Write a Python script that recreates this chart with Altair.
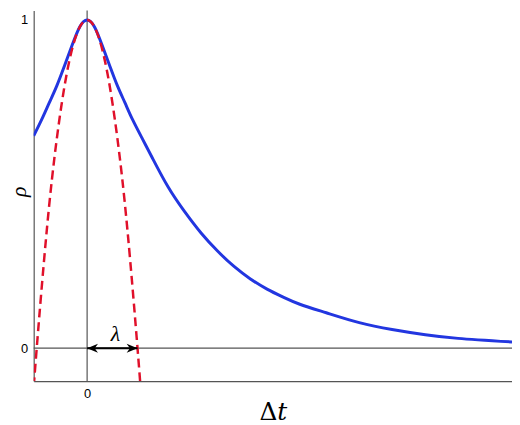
import altair as alt
import pandas as pd

# ---- data ----
blue_t = [-1.06, -0.9, -0.75, -0.6, -0.45, -0.3, -0.15, 0.0, 0.15, 0.3, 0.45, 0.6, 0.75,
          0.9, 1.1, 1.3, 1.608, 1.935, 2.261, 2.588, 2.915, 3.24, 3.57, 3.90, 4.22,
          4.745, 5.40, 6.05, 6.71, 7.36, 8.43]
blue_rho = [0.647, 0.697, 0.748, 0.80, 0.86, 0.922, 0.978, 1.0, 0.978, 0.922, 0.86, 0.80, 0.748,
            0.697, 0.637, 0.578, 0.491, 0.416, 0.351, 0.296, 0.249, 0.211, 0.180, 0.155, 0.134,
            0.108, 0.078, 0.057, 0.041, 0.030, 0.019]

red_t = [-1.1, -1.0, -0.8, -0.6, -0.4, -0.2, 0.0, 0.2, 0.4, 0.6, 0.8, 1.0, 1.1]
red_rho = [-0.2, 0.0, 0.36, 0.64, 0.84, 0.96, 1.0, 0.96, 0.84, 0.64, 0.36, 0.0, -0.2]

zero_x = [0]
zero_y = [0]
arrow_from = [0]
arrow_to = [1]
lam_x = [0.56]
lam_text = ["λ"]
x_ticks = [0]
y_ticks = [0, 1]

X_DOMAIN = [-1.06, 8.43]
Y_DOMAIN = [-0.1, 1.029]

xs = alt.Scale(domain=X_DOMAIN, nice=False, zero=False)
ys = alt.Scale(domain=Y_DOMAIN, nice=False, zero=False)

GRAY = "#555555"

blue_df = pd.DataFrame({"t": blue_t, "rho": blue_rho})
red_df = pd.DataFrame({"t": red_t, "rho": red_rho})

x_axis = alt.Axis(values=x_ticks, title="Δ𝑡", ticks=False, labelPadding=7, format="d",
                  labelFont="Liberation Sans", labelFontSize=13, labelColor="black",
                  titleFont="DejaVu Serif", titleFontSize=25, titleFontWeight="normal",
                  titleColor="black", titleBaseline="alphabetic", titleY=39)
y_axis = alt.Axis(values=y_ticks, title="ρ", ticks=False, labelPadding=6, format="d",
                  labelFont="Liberation Sans", labelFontSize=13, labelColor="black",
                  titleFont="Liberation Serif", titleFontSize=22, titleFontStyle="italic",
                  titleFontWeight="normal", titleColor="black", titleAngle=270,
                  titleBaseline="middle", titleX=-15, titleY=183)


def X(field):
    return alt.X(field, scale=xs, axis=x_axis)


def Y(field):
    return alt.Y(field, scale=ys, axis=y_axis)


vline = alt.Chart(pd.DataFrame({"x": zero_x})).mark_rule(color=GRAY, strokeWidth=1.2).encode(
    x=X("x:Q"))
hline = alt.Chart(pd.DataFrame({"y": zero_y})).mark_rule(color=GRAY, strokeWidth=1.2).encode(
    y=Y("y:Q"))

blue = alt.Chart(blue_df).mark_line(color="#2236e0", strokeWidth=3, interpolate="natural",
                                    clip=True).encode(
    x=X("t:Q"), y=Y("rho:Q"), order="t:Q")

red = alt.Chart(red_df).mark_line(color="#e0102a", strokeWidth=2.5, strokeDash=[9, 5],
                                  interpolate="natural", clip=True).encode(
    x=X("t:Q"), y=Y("rho:Q"), order="t:Q")

arrow_df = pd.DataFrame({"a": arrow_from, "b": arrow_to, "y": zero_y})
arrow_line = alt.Chart(arrow_df).mark_rule(color="black", strokeWidth=2).encode(
    x=X("a:Q"), x2="b:Q", y=Y("y:Q"))

head_right = alt.Chart(pd.DataFrame({"x": arrow_to, "y": zero_y})).mark_point(
    shape="M0,0 L-2,-0.82 L-1.4,0 L-2,0.82 Z", size=121, filled=True, color="black",
    opacity=1, strokeWidth=0).encode(x=X("x:Q"), y=Y("y:Q"))
head_left = alt.Chart(pd.DataFrame({"x": arrow_from, "y": zero_y})).mark_point(
    shape="M0,0 L2,-0.82 L1.4,0 L2,0.82 Z", size=121, filled=True, color="black",
    opacity=1, strokeWidth=0).encode(x=X("x:Q"), y=Y("y:Q"))

lam = alt.Chart(pd.DataFrame({"x": lam_x, "y": zero_y, "s": lam_text})).mark_text(
    font="Liberation Serif", fontStyle="italic", fontSize=22, color="black",
    baseline="alphabetic", dy=-7).encode(x=X("x:Q"), y=Y("y:Q"), text="s:N")

chart = alt.layer(vline, hline, blue, red, arrow_line, head_left, head_right, lam).properties(
    width=484, height=375,
    autosize=alt.AutoSizeParams(type="none"),
    padding={"left": 26, "top": 0, "right": 0, "bottom": 42},
).configure_view(stroke=None).configure_axis(
    grid=False, domainColor=GRAY, domainWidth=1.2)

chart.save("out.html", embed_options={"renderer": "svg", "actions": False})
